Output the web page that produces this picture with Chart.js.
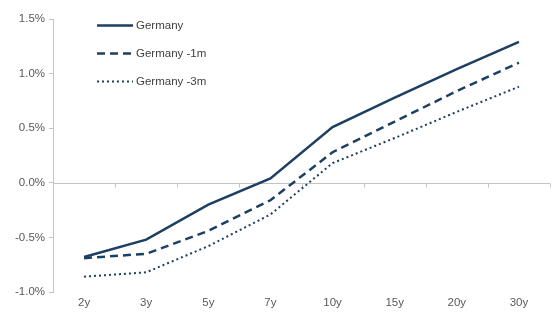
<!DOCTYPE html>
<html>
<head>
<meta charset="utf-8">
<script src="https://cdn.jsdelivr.net/npm/chart.js@4.4.1/dist/chart.umd.min.js"></script>
<style>
  html, body { margin: 0; padding: 0; background: #fff; }
  #wrap { width: 558px; height: 333px; position: relative; }
</style>
</head>
<body>
<div id="wrap"><canvas id="curveChart"></canvas></div>
<script>
// tenors and yields (%)
const tenors = ['2y', '3y', '5y', '7y', '10y', '15y', '20y', '30y'];
const germanyNow = [-0.68, -0.52, -0.20, 0.04, 0.51, 0.78, 1.04, 1.29];
const germany1m = [-0.69, -0.65, -0.44, -0.16, 0.28, 0.56, 0.84, 1.10];
const germany3m = [-0.86, -0.82, -0.58, -0.29, 0.18, 0.41, 0.65, 0.88];
const yTicks = [-1.0, -0.5, 0.0, 0.5, 1.0, 1.5];

const navy = '#1d3f62';
const axisGrey = '#c4c4c4';
const labelGrey = '#595959';
const fontFamily = '"Liberation Sans", Arial, sans-serif';

// zero line with category tick marks
const zeroAxis = {
    id: 'zeroAxis',
    beforeDatasetsDraw(chart) {
        const { ctx, chartArea, scales } = chart;
        const y0 = Math.round(scales.y.getPixelForValue(0)) + 0.5;
        ctx.save();
        ctx.strokeStyle = axisGrey;
        ctx.lineWidth = 1;
        ctx.beginPath();
        ctx.moveTo(chartArea.left, y0);
        ctx.lineTo(chartArea.right, y0);
        const step = (chartArea.right - chartArea.left) / tenors.length;
        for (let i = 1; i <= tenors.length; i++) {
            const x = Math.round(chartArea.left + i * step) + 0.5;
            ctx.moveTo(x, y0);
            ctx.lineTo(x, y0 + 4);
        }
        ctx.stroke();
        ctx.restore();
    }
};

// legend drawn inside the plot, top-left
const innerLegend = {
    id: 'innerLegend',
    afterDraw(chart) {
        const { ctx } = chart;
        const x0 = 97, x1 = 133, rows = [25, 53, 81];
        ctx.save();
        ctx.font = '11.5px ' + fontFamily;
        ctx.textBaseline = 'middle';
        chart.data.datasets.forEach((ds, i) => {
            const y = rows[i] + 0.5;
            ctx.strokeStyle = ds.borderColor;
            ctx.lineWidth = ds.borderWidth;
            ctx.setLineDash(ds.borderDash || []);
            ctx.beginPath();
            ctx.moveTo(x0, y);
            ctx.lineTo(x1, y);
            ctx.stroke();
            ctx.setLineDash([]);
            ctx.fillStyle = '#404040';
            ctx.fillText(ds.label, x1 + 3, y);
        });
        ctx.restore();
    }
};

new Chart(document.getElementById('curveChart'), {
    type: 'line',
    data: {
        labels: tenors,
        datasets: [
            { label: 'Germany', data: germanyNow, borderColor: navy, borderWidth: 2.5 },
            { label: 'Germany -1m', data: germany1m, borderColor: navy, borderWidth: 2.5, borderDash: [8, 5] },
            { label: 'Germany -3m', data: germany3m, borderColor: navy, borderWidth: 2, borderDash: [2, 3] }
        ]
    },
    options: {
        responsive: true,
        maintainAspectRatio: false,
        animation: false,
        elements: { point: { radius: 0 }, line: { tension: 0, fill: false } },
        layout: { padding: { top: 19, right: 8, left: 0, bottom: 0 } },
        plugins: {
            legend: { display: false },
            tooltip: { enabled: false }
        },
        scales: {
            x: {
                offset: true,
                grid: { display: false, drawTicks: false },
                border: { display: false },
                ticks: {
                    color: labelGrey,
                    font: { family: fontFamily, size: 11.5 },
                    padding: 4,
                    maxRotation: 0
                },
                afterFit(scale) { scale.height = 41; }
            },
            y: {
                min: -1.0,
                max: 1.5,
                afterBuildTicks(scale) { scale.ticks = yTicks.map(v => ({ value: v })); },
                grid: { drawOnChartArea: false, tickLength: 4, color: axisGrey },
                border: { display: true, color: axisGrey },
                ticks: {
                    color: labelGrey,
                    font: { family: fontFamily, size: 11.5 },
                    padding: 4,
                    callback: v => v.toFixed(1) + '%'
                },
                afterFit(scale) { scale.width = 53; }
            }
        }
    },
    plugins: [zeroAxis, innerLegend]
});
</script>
</body>
</html>
